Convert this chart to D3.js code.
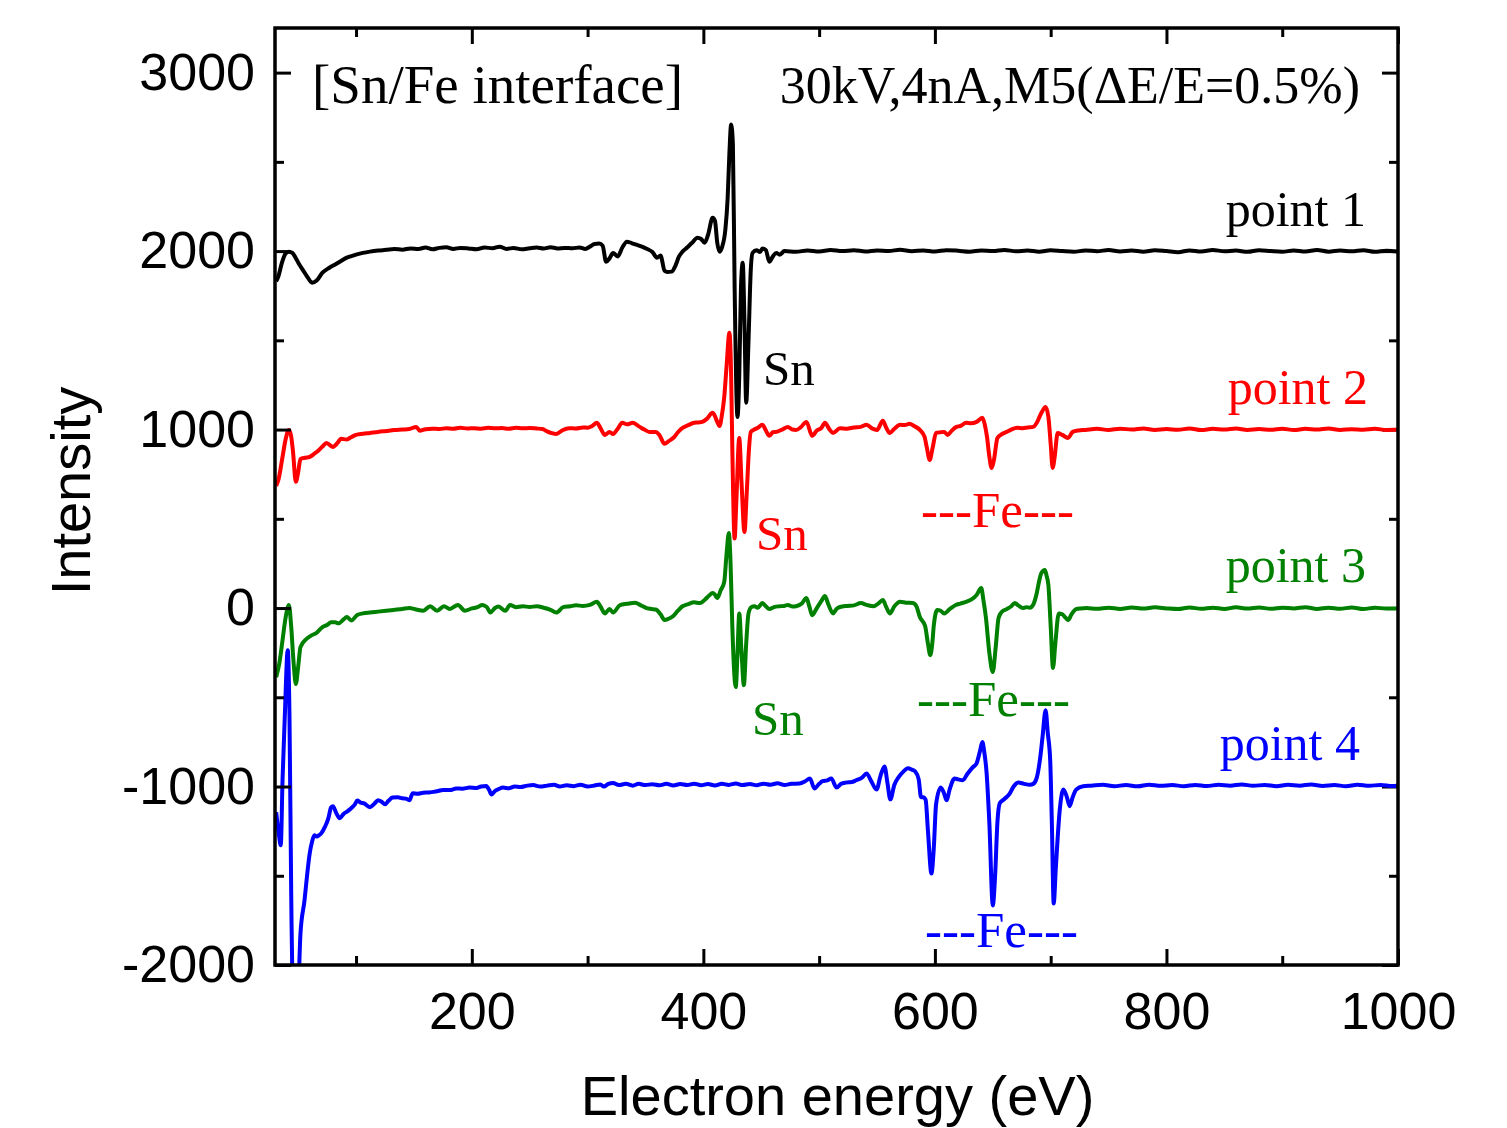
<!DOCTYPE html>
<html>
<head>
<meta charset="utf-8">
<script src="https://cdn.jsdelivr.net/npm/d3@7"></script>
<style>
  body { margin: 0; background: #fff; }
  svg { display: block; }
</style>
</head>
<body>
<script>
// energy (eV), intensity
var point1 = [
  [31,1830],[33,1860],[36,1935],[39,1985],[42,1997],[45,1990],[48,1960],[51,1925],[54,1895],[58,1855],[62,1823],[66,1835],[71,1879],[77,1907],[82,1925],[87,1945],[92,1963],[96,1972],[100,1980],[106,1990],[112,1997],[119,2003],[126,2007],[133,2012],[140,2008],[147,2015],[154,2012],[160,2020],[166,2010],[172,2018],[178,2022],[184,2012],[190,2018],[197,2015],[204,2010],[211,2020],[218,2016],[224,2025],[230,2012],[236,2018],[243,2010],[250,2016],[256,2020],[262,2014],[268,2022],[274,2015],[280,2018],[287,2016],[293,2020],[298,2012],[302,2025],[306,2040],[310,2042],[313,2030],[316,1940],[319,1960],[322,1990],[326,1970],[330,2020],[334,2053],[338,2045],[342,2036],[347,2025],[351,2013],[356,1995],[360,1963],[363,1975],[366.5,1890],[369,1883],[372.5,1885],[376,1920],[379,1970],[382,1997],[386,2020],[390,2045],[395,2075],[398,2068],[401,2047],[404,2090],[408,2187],[410,2170],[412,2047],[414,1997],[416,2020],[419,2120],[421,2300],[422.5,2550],[424,2709],[425.5,2600],[427,1800],[429.5,1071],[431,1300],[432.5,1800],[434,1935],[435.5,1600],[437,1150],[439,1500],[441,1900],[442.5,1990],[446,2005],[449,1995],[451,2015],[454,2005],[457,1940],[460,1970],[463,1990],[466,1980],
  [470,2000],[480,1996],[490,2004],[500,1998],[510,2006],[520,2000],[530,2005],[540,1998],[550,2004],[560,2001],[570,2007],[580,1999],[590,2004],[600,1998],[610,2005],[620,2002],[630,1997],[640,2004],[650,2000],[660,2006],[670,1999],[680,2003],[690,1997],[700,2005],[710,2000],[720,1996],[730,2004],[740,1999],[750,2006],[760,1998],[770,2003],[780,1997],[790,2005],[800,2000],[810,1994],[820,2004],[830,1998],[840,2006],[850,1999],[860,2003],[870,1996],[880,2005],[890,2000],[900,1996],[910,2004],[920,1998],[930,2006],[940,1997],[950,2003],[960,1999],[970,2005],[980,1996],[990,2002],[1000,1998]
];

var point2 = [
  [31,684],[33,720],[36.5,847],[39,940],[42,998],[44,960],[45.5,880],[48,707],[50,760],[52,835],[56,842],[60,847],[64,865],[68,886],[71,905],[74.5,925],[77,915],[80,903],[84,925],[87,948],[92,945],[96,958],[100,970],[106,976],[112,981],[119,987],[126,992],[133,997],[140,1000],[146,1003],[152,1015],[155,993],[160,1002],[166,1005],[172,1003],[178,1008],[184,1004],[190,1010],[196,1006],[202,1008],[208,1005],[214,1010],[220,1007],[226,1009],[232,1004],[238,1010],[244,1007],[250,1009],[256,1006],[261,1003],[265,990],[269,980],[273,975],[278,995],[284,1008],[290,1006],[296,1012],[300,1010],[304,1020],[308,1038],[311,1010],[315,970],[319,987],[322,975],[326,1005],[330,1038],[334,1030],[339,1038],[345,1015],[349,1000],[353.5,987],[359,987],[362,970],[366.5,920],[370,935],[375,959],[378,985],[382,1010],[387,1025],[392,1038],[396,1040],[399,1043],[403,1060],[408,1094],[410,1075],[412,1043],[414,1020],[416,1080],[418,1180],[420,1350],[422.5,1542],[424,1300],[425,900],[427,390],[428.5,600],[431,953],[433,700],[435.5,426],[437.5,650],[439.5,900],[441,987],[444,1000],[447,1010],[451,1027],[454,995],[457,965],[460,985],[463,987],[468,1000],[473,1015],[477,1000],[480,998],[484,1012],[489,1043],[494,965],[498,995],[502,1010],[505,1038],[509,1000],[512,981],[518,1008],[524,1005],[530,1012],[536,1015],[541,1027],[546,1005],[550,998],[555,1049],[558,1010],[561,981],[565,1005],[570,1027],[574,1025],[578,1032],[582,1020],[587,998],[591,960],[593,900],[595.5,830],[598,897],[601,981],[605,985],[608,987],[611,970],[614,990],[618.6,1015],[622,1020],[627,1038],[631,1035],[636,1043],[641,1066],[643,1030],[645,959],[647,850],[649,785],[651,830],[654,953],[658,975],[662,987],[666,1000],[671,1010],[676,1008],[680,1012],[685,1015],[688,1038],[692,1094],[695.6,1127],[698,1072],[700,920],[701.7,785],[703.5,850],[706,981],[710,970],[715,953],[719,987],[724,995],[730,998],
  [740,1004],[750,998],[760,1005],[770,1000],[780,1006],[790,998],[800,1003],[810,999],[820,1006],[830,997],[840,1004],[850,1000],[860,1006],[870,998],[880,1003],[890,999],[900,1005],[910,997],[920,1004],[930,1000],[940,1006],[950,998],[960,1002],[970,999],[980,1004],[990,998],[1000,1000]
];

var point3 = [
  [31,-387],[34,-300],[36.5,-180],[39,-60],[42,17],[44,-105],[46,-300],[48,-426],[50,-330],[52,-219],[57,-174],[61,-155],[65.6,-140],[71,-107],[75,-95],[78.5,-79],[82,-80],[85,-85],[89,-65],[92,-50],[96,-70],[101,-39],[106,-30],[112,-25],[119,-20],[126,-15],[133,-10],[140,-5],[146,0],[152,-8],[158,-15],[164,10],[170,-15],[176,10],[181,-5],[188,17],[194,-15],[200,-2],[205,5],[209,17],[213,5],[216,-25],[220,0],[223,8],[229,-15],[233,17],[238,5],[244,10],[250,6],[256,10],[262,2],[268,-10],[273,-25],[279,5],[285,10],[290,15],[296,12],[302,18],[308,35],[311,10],[315,-30],[319,-5],[322,-25],[328,17],[334,24],[341,30],[346,15],[351,0],[355,-5],[359,-8],[363,-35],[366.5,-67],[370,-60],[374,-45],[378,-15],[382,10],[387,22],[392,32],[397,28],[401,45],[405,70],[408,84],[410,75],[412,56],[415,100],[418,146],[420,300],[422,420],[423.5,250],[425,-100],[428,-443],[429.5,-250],[431,-30],[433,-250],[435,-432],[437,-200],[439,-30],[441.6,6],[444,10],[447,2],[451,28],[454,10],[457,-6],[461,5],[466,10],[470,12],[473,17],[477,8],[480,10],[485,25],[489,56],[491.5,10],[494,-40],[498,0],[502,40],[505,67],[508,20],[512,-30],[515,-5],[518,6],[524,12],[530,15],[536,28],[541,18],[547,10],[551,25],[555,45],[558,5],[561,-30],[565,10],[570,35],[575,30],[581,28],[584,10],[587,-50],[591.5,-100],[594,-200],[596,-264],[598,-180],[599,-100],[602,-11],[605,-15],[608,-30],[613,-5],[618,17],[622,25],[627,35],[632,50],[636,73],[640,112],[642,40],[644,-50],[647,-250],[650,-359],[652.5,-220],[655,-56],[658,-20],[662,-6],[666,10],[669,28],[672,15],[676,0],[679,5],[682,2],[685,20],[688,84],[690,150],[692,196],[695,213],[696.5,180],[698,130],[700,-100],[702,-336],[704,-200],[707,-30],[710,-35],[713,-55],[715,-67],[718,-35],[722,-6],[726,-2],[731,0],
  [740,-4],[750,2],[760,-5],[770,3],[780,-3],[790,4],[800,-2],[810,-6],[820,3],[830,-4],[840,2],[850,-5],[860,4],[870,-3],[880,3],[890,-4],[900,2],[910,-2],[920,5],[930,-5],[940,2],[950,-4],[960,3],[970,-6],[980,2],[990,-3],[1000,-1]
];

var point4 = [
  [31,-1144],[33,-1250],[35,-1329],[36.5,-965],[38.5,-600],[41,-236],[42.5,-600],[44,-1600],[45.5,-2300],[48,-2500],[50,-2200],[52,-1823],[55.5,-1637],[58,-1480],[60,-1374],[62,-1310],[64,-1273],[66,-1280],[68,-1273],[70,-1262],[73,-1228],[76,-1180],[78.5,-1116],[80,-1110],[83,-1150],[86,-1178],[89,-1155],[92.5,-1139],[96,-1120],[99,-1100],[101,-1079],[104,-1090],[107,-1095],[112,-1116],[116,-1095],[119,-1077],[122,-1085],[125,-1100],[128,-1080],[131.5,-1062],[136,-1060],[140,-1066],[143,-1068],[146,-1077],[149,-1038],[153,-1040],[158,-1035],[163,-1033],[167,-1030],[171,-1025],[175,-1019],[181,-1020],[186.5,-1011],[192,-1012],[198,-1006],[204,-1008],[208,-1000],[212.5,-997],[215,-1020],[217,-1045],[220,-1025],[223,-1015],[227,-1006],[232,-1010],[237,-1000],[242,-1003],[248,-995],[253,-992],[259,-1000],[265,-995],[271,-990],[276,-1000],[282,-993],[288,-998],[294,-990],[300,-1000],[306,-994],[311,-988],[314,-1000],[318,-985],[322,-980],[327,-992],[333,-985],[339,-995],[344,-985],[350,-992],[356,-987],[362,-993],[368,-985],[374,-994],[380,-986],[386,-992],[392,-984],[398,-993],[404,-986],[410,-994],[416,-985],[422,-991],[428,-983],[434,-992],[440,-986],[446,-993],[452,-984],[458,-990],[464,-982],[470,-991],[476,-985],[483,-983],[488,-970],[492,-955],[496,-1011],[500,-985],[503,-970],[507,-965],[510.5,-955],[515,-1005],[519,-985],[523,-978],[528,-975],[532,-965],[537,-950],[541,-927],[545,-970],[549.6,-1017],[553,-940],[556.5,-888],[559,-980],[561.5,-1072],[565,-990],[569,-944],[573,-915],[576.5,-898],[580,-905],[583,-916],[586,-960],[588,-1060],[590,-1060],[592,-1075],[594,-1250],[597,-1487],[599,-1350],[601,-1100],[605,-1005],[608,-1040],[610,-1077],[613,-1010],[617,-955],[620,-960],[624,-965],[628,-930],[632.6,-893],[636,-870],[639,-800],[641,-751],[642.5,-800],[644.6,-920],[647,-1200],[650,-1666],[652,-1500],[654,-1200],[656,-1094],[660,-1070],[664.6,-1040],[668,-1000],[672,-978],[677,-985],[682,-990],[685,-985],[688,-950],[691,-836],[693,-720],[695.6,-573],[697.5,-700],[699.6,-855],[701,-1200],[702.6,-1655],[704.5,-1450],[707.8,-1133],[711,-1017],[714,-1060],[716.4,-1110],[719,-1060],[722,-1017],[728,-998],
  [735,-995],[745,-990],[755,-998],[765,-992],[775,-999],[785,-990],[795,-996],[805,-992],[815,-998],[825,-991],[835,-997],[845,-990],[855,-995],[865,-988],[875,-996],[885,-991],[895,-998],[905,-990],[915,-995],[925,-989],[935,-997],[945,-992],[955,-998],[965,-990],[975,-996],[985,-991],[995,-997],[1000,-994]
];

var seriesNames = ["point 1", "point 2", "point 3", "point 4"];
var seriesColors = ["#000000", "#ff0000", "#008000", "#0000ff"];
var xMajor = [200, 400, 600, 800, 1000];
var xMinor = [100, 300, 500, 700, 900];
var yMajor = [-2000, -1000, 0, 1000, 2000, 3000];
var yMinor = [-1500, -500, 500, 1500, 2500];

(function() {
  var W = 1507, H = 1128;
  var pL = 275, pR = 1398, pT = 28, pB = 965;
  var sans = "'Liberation Sans', Arial, sans-serif";
  var serif = "'Liberation Serif', 'Times New Roman', serif";

  var svg = d3.select("body").append("svg")
      .attr("width", W)
      .attr("height", H);

  var x = d3.scaleLinear().domain([30, 1000]).range([pL, pR]);
  var y = d3.scaleLinear().domain([-2000, 3250]).range([pB, pT]);

  svg.append("clipPath").attr("id", "plotclip")
    .append("rect")
      .attr("x", pL).attr("y", pT)
      .attr("width", pR - pL).attr("height", pB - pT);

  // axes, ticks point inward
  function styleAxis(g) {
    g.select(".domain").remove();
    g.selectAll(".tick line").attr("stroke", "#000").attr("stroke-width", 3);
    g.selectAll(".tick text")
      .attr("fill", "#000")
      .style("font-family", sans)
      .style("font-size", "52px");
  }

  function addAxis(axis, tx, ty) {
    svg.append("g")
        .attr("transform", "translate(" + tx + "," + ty + ")")
        .call(axis)
        .call(styleAxis);
  }

  // right-hand ticks sit under the curves
  addAxis(d3.axisRight(y).tickValues(yMajor).tickSize(-16).tickFormat(""), pR, 0);
  addAxis(d3.axisRight(y).tickValues(yMinor).tickSize(-9).tickFormat(""), pR, 0);

  var line = d3.line()
      .x(function(d) { return x(d[0]); })
      .y(function(d) { return y(d[1]); })
      .curve(d3.curveMonotoneX);

  var all = [point1, point2, point3, point4];
  svg.append("g").attr("clip-path", "url(#plotclip)")
    .selectAll("path")
    .data(all)
    .enter()
    .append("path")
      .attr("d", line)
      .attr("fill", "none")
      .attr("stroke", function(d, i) { return seriesColors[i]; })
      .attr("stroke-width", 4)
      .attr("stroke-linejoin", "round");

  addAxis(d3.axisBottom(x).tickValues(xMajor).tickSize(-16).tickPadding(27).tickFormat(d3.format("d")), 0, pB);
  addAxis(d3.axisBottom(x).tickValues(xMinor).tickSize(-9).tickFormat(""), 0, pB);
  addAxis(d3.axisTop(x).tickValues(xMajor).tickSize(-16).tickFormat(""), 0, pT);
  addAxis(d3.axisTop(x).tickValues(xMinor).tickSize(-9).tickFormat(""), 0, pT);
  addAxis(d3.axisLeft(y).tickValues(yMajor).tickSize(-16).tickPadding(20).tickFormat(function(d) { return String(d); }), pL, 0);
  addAxis(d3.axisLeft(y).tickValues(yMinor).tickSize(-9).tickFormat(""), pL, 0);

  svg.append("rect")
      .attr("x", pL).attr("y", pT)
      .attr("width", pR - pL).attr("height", pB - pT)
      .attr("fill", "none")
      .attr("stroke", "#000")
      .attr("stroke-width", 3.5);

  // axis titles
  svg.append("text")
      .attr("x", (pL + pR) / 2 + 1)
      .attr("y", 1115)
      .attr("text-anchor", "middle")
      .style("font-family", sans)
      .style("font-size", "56px")
      .text("Electron energy (eV)");

  svg.append("text")
      .attr("transform", "translate(90,491) rotate(-90)")
      .attr("text-anchor", "middle")
      .style("font-family", sans)
      .style("font-size", "56px")
      .text("Intensity");

  // annotations
  function note(txt, px, py, color, size, anchor) {
    svg.append("text")
        .attr("x", px).attr("y", py)
        .attr("text-anchor", anchor || "start")
        .attr("fill", color)
        .style("font-family", serif)
        .style("font-size", size + "px")
        .text(txt);
  }

  note("[Sn/Fe interface]", 312, 103, "#000", 55);
  note("30kV,4nA,M5(\u0394E/E=0.5%)", 1360, 103, "#000", 52, "end");

  var labelX = [1366, 1368, 1366, 1360];
  var labelY = [226, 404, 582, 760];
  seriesNames.forEach(function(n, i) {
    note(n, labelX[i], labelY[i], seriesColors[i], 50, "end");
  });

  note("Sn", 763, 385, seriesColors[0], 49);
  note("Sn", 756, 550, seriesColors[1], 49);
  note("Sn", 752, 735, seriesColors[2], 49);
  note("---Fe---", 921, 527, seriesColors[1], 51);
  note("---Fe---", 917, 716, seriesColors[2], 51);
  note("---Fe---", 925, 947, seriesColors[3], 51);
})();
</script>
</body>
</html>
